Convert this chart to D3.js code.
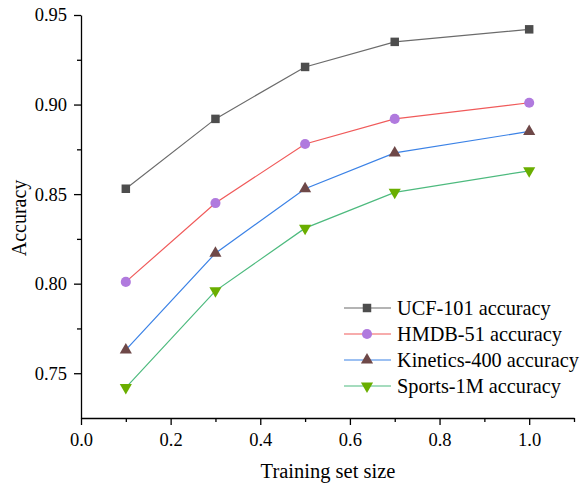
<!DOCTYPE html>
<html>
<head>
<meta charset="utf-8">
<script src="https://cdn.jsdelivr.net/npm/d3@7"></script>
<style>
  body { margin: 0; background: #fff; }
  text { font-family: "Liberation Serif", "Times New Roman", serif; }
</style>
</head>
<body>
<div class="chart"></div>
<script>
// data
const sizes = [0.1, 0.3, 0.5, 0.7, 1.0];
const ucf = [0.853, 0.892, 0.921, 0.935, 0.942];
const hmdb = [0.801, 0.845, 0.878, 0.892, 0.901];
const kinetics = [0.763, 0.817, 0.853, 0.873, 0.885];
const sports = [0.742, 0.796, 0.831, 0.851, 0.863];
const xTicks = [0, 0.2, 0.4, 0.6, 0.8, 1.0];
const yTicks = [0.75, 0.80, 0.85, 0.90, 0.95];

const series = [
    {name: "UCF-101 accuracy", values: ucf, line: "#6b6b6b", fill: "#4d4d4d", shape: d3.symbolSquare, size: 72, rot: 0},
    {name: "HMDB-51 accuracy", values: hmdb, line: "#f05a5a", fill: "#b07ade", shape: d3.symbolCircle, size: 80, rot: 0},
    {name: "Kinetics-400 accuracy", values: kinetics, line: "#3b82e6", fill: "#6e4848", shape: d3.symbolTriangle, size: 64, rot: 0},
    {name: "Sports-1M accuracy", values: sports, line: "#4dba7e", fill: "#6aae00", shape: d3.symbolTriangle, size: 64, rot: 180}
];

const margin = {top: 15, right: 12, bottom: 71, left: 81};
const width = 587 - margin.left - margin.right;
const height = 489 - margin.top - margin.bottom;

let svg = d3.select(".chart")
    .append("svg")
    .attr("width", 587)
    .attr("height", 489)
    .append("g")
    .attr("transform", "translate(" + margin.left + "," + margin.top + ")");

let xScale = d3.scaleLinear().domain([0, 1.1]).range([0, width - 1]);
let yScale = d3.scaleLinear().domain([0.725, 0.95]).range([height, 0]);

// axes, major + minor ticks
let xAxis = svg.append("g")
    .attr("transform", "translate(0," + height + ")")
    .call(d3.axisBottom(xScale).tickValues(xTicks).tickFormat(d3.format(".1f")).tickSize(7).tickSizeOuter(0));
svg.append("g")
    .attr("transform", "translate(0," + height + ")")
    .call(d3.axisBottom(xScale).tickValues([0.1, 0.3, 0.5, 0.7, 0.9, 1.1]).tickFormat("").tickSize(4).tickSizeOuter(0))
    .select(".domain").remove();

let yAxis = svg.append("g")
    .call(d3.axisLeft(yScale).tickValues(yTicks).tickFormat(d3.format(".2f")).tickSize(7).tickSizeOuter(0));
svg.append("g")
    .call(d3.axisLeft(yScale).tickValues([0.775, 0.825, 0.875, 0.925]).tickFormat("").tickSize(4).tickSizeOuter(0))
    .select(".domain").remove();

svg.selectAll(".tick text").attr("font-size", 18.5).attr("fill", "#000")
    .attr("font-family", "Liberation Serif");
xAxis.selectAll(".tick text").attr("y", 15).attr("dy", "0.71em");
yAxis.selectAll(".tick text").attr("x", -14);
svg.selectAll(".domain, .tick line").attr("stroke", "#000").attr("stroke-width", 1.3);

// axis titles
svg.append("text")
    .attr("x", 328 - margin.left)
    .attr("y", 478 - margin.top)
    .attr("text-anchor", "middle")
    .attr("font-size", 20.5)
    .text("Training set size");

svg.append("text")
    .attr("transform", "translate(" + (26 - margin.left) + "," + (218 - margin.top) + ") rotate(-90)")
    .attr("text-anchor", "middle")
    .attr("font-size", 20)
    .text("Accuracy");

// lines and markers
let line = d3.line().x((d, i) => xScale(sizes[i])).y(d => yScale(d));

series.forEach(s => {
    svg.append("path")
        .datum(s.values)
        .attr("fill", "none")
        .attr("stroke", s.line)
        .attr("stroke-width", 1.2)
        .attr("d", line);

    svg.selectAll(null)
        .data(s.values)
        .enter()
        .append("path")
        .attr("d", d3.symbol().type(s.shape).size(s.size))
        .attr("transform", (d, i) => "translate(" + xScale(sizes[i]) + "," + yScale(d) + ") rotate(" + s.rot + ")")
        .attr("fill", s.fill);
});

// legend
let legend = svg.append("g")
    .attr("transform", "translate(" + (344 - margin.left) + "," + (308 - margin.top) + ")");

series.forEach((s, i) => {
    let row = legend.append("g").attr("transform", "translate(0," + i * 26 + ")");
    row.append("line")
        .attr("x1", 0).attr("x2", 47)
        .attr("stroke", s.line).attr("stroke-width", 1.2);
    row.append("path")
        .attr("d", d3.symbol().type(s.shape).size(s.size))
        .attr("transform", "translate(23,0) rotate(" + s.rot + ")")
        .attr("fill", s.fill);
    row.append("text")
        .attr("x", 53)
        .attr("dy", "0.33em")
        .attr("font-size", 20.3)
        .text(s.name);
});
</script>
</body>
</html>
